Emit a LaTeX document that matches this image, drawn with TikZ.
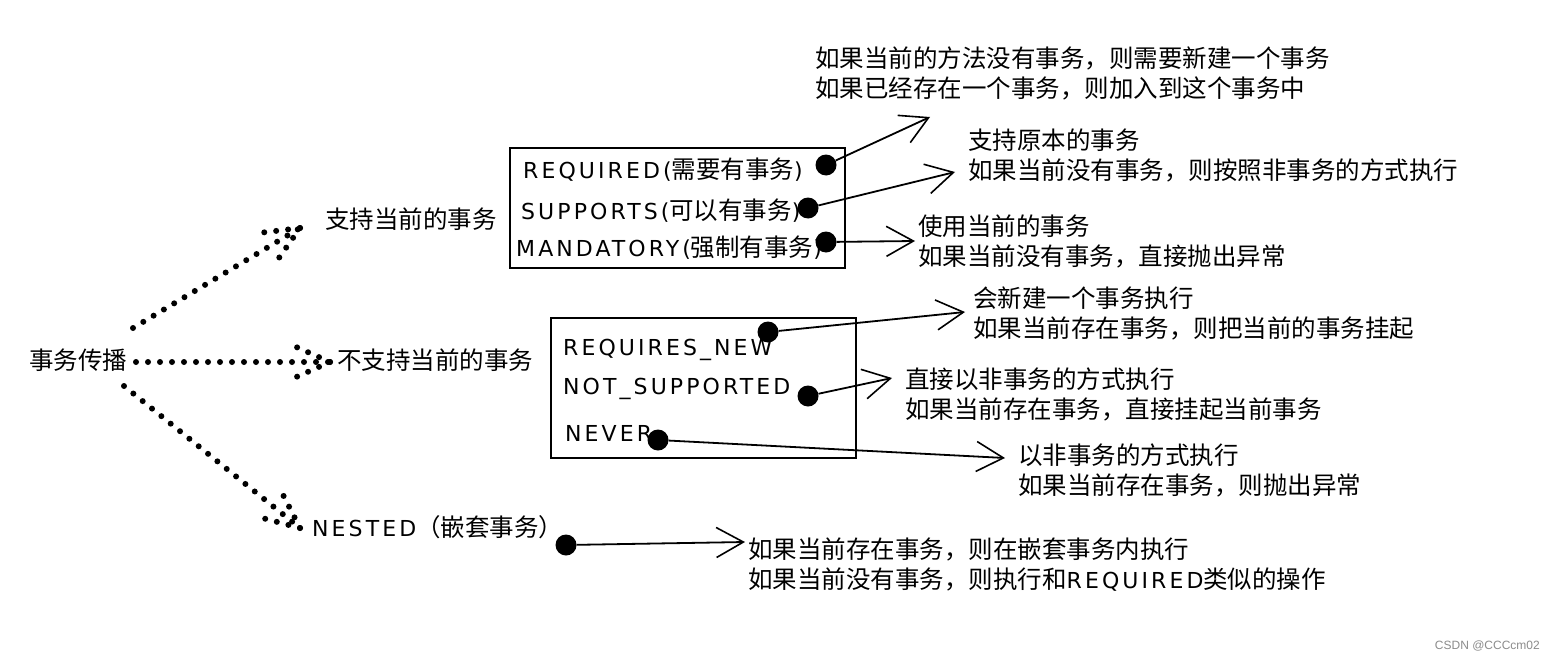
\documentclass[tikz,border=0pt]{standalone}
\usepackage{fontspec}
\setmainfont{Noto Sans CJK SC}
\newfontfamily\latfont[LetterSpace=14]{DejaVu Sans}
\newfontfamily\wmfont{Liberation Sans}
\usetikzlibrary{arrows.meta,calc}
\newcommand{\lat}[1]{{\latfont\fontsize{22}{26}\selectfont #1}}
\tikzset{
  txt/.style={anchor=west, inner sep=0pt, align=left, font=\fontsize{24.5}{30}\selectfont},
  row/.style={anchor=west, inner sep=0pt, font=\fontsize{24.5}{30}\selectfont},
  dotline/.style={line width=6pt, dash pattern=on 0pt off 12pt, line cap=round},
  blob/.style={circle, fill=black, inner sep=0pt, minimum size=21pt},
  conn/.style={line width=1.8pt, -{Straight Barb[length=27pt,width=30pt,line width=1.6pt]}},
  boxframe/.style={draw, line width=1.6pt, inner sep=0pt},
}
\newcommand{\dotarrow}[2]{%
  \draw[dotline] (#1) -- (#2);
  \draw[dotline] (#2) -- ($(#2)!38pt!24:(#1)$);
  \draw[dotline] (#2) -- ($(#2)!38pt!-24:(#1)$);
}
\begin{document}
\begin{tikzpicture}[x=1pt,y=-1pt]
\useasboundingbox (0,0) rectangle (1554,661);
\fill[white] (0,0) rectangle (1554,661);

% main nodes
\node[row, anchor=center] (root) at (78,360) {事务传播};
\node[row] (sup) at (325,219) {支持当前的事务};
\node[row] (nsup) at (337,360) {不支持当前的事务};
\node[row] (nested) at (312,527) {\lat{NESTED}（嵌套事务）};

% dotted arrows
\coordinate (s1) at (133,328);
\coordinate (e1) at (300,228);
\coordinate (s2) at (136,362);
\coordinate (e2) at (330,362);
\coordinate (s3) at (124,386);
\coordinate (e3) at (300,528);
\dotarrow{s1}{e1}
\dotarrow{s2}{e2}
\dotarrow{s3}{e3}

% boxes
\node[boxframe, minimum width=335pt, minimum height=120pt] (box1) at (677.5,208) {};
\node[boxframe, minimum width=305pt, minimum height=140pt] (box2) at (703.5,388) {};

% rows box 1
\node[row] (req) at (523,170) {\lat{REQUIRED(}需要有事务\lat{)}};
\node[row] (sups) at (521,211) {\lat{SUPPORTS(}可以有事务\lat{)}};
\node[row] (mand) at (516,248) {\lat{MANDATORY(}强制有事务\lat{)}};

% rows box 2
\node[row] (reqn) at (563,350) {\lat{REQUIRES\_NEW}};
\node[row] (nots) at (563,389) {\lat{NOT\_SUPPORTED}};
\node[row] (never) at (565,433) {\lat{NEVER}};

% blobs
\node[blob] (d1) at (826,165) {};
\node[blob] (d2) at (808,208) {};
\node[blob] (d3) at (826,242) {};
\node[blob] (d4) at (768,332) {};
\node[blob] (d5) at (808,396) {};
\node[blob] (d6) at (658,440) {};
\node[blob] (d7) at (566,545) {};

% description texts
\node[txt] (t1) at (815,73) {如果当前的方法没有事务，则需要新建一个事务\\如果已经存在一个事务，则加入到这个事务中};
\node[txt] (t2) at (968,155.5) {支持原本的事务\\如果当前没有事务，则按照非事务的方式执行};
\node[txt] (t3) at (918,241) {使用当前的事务\\如果当前没有事务，直接抛出异常};
\node[txt] (t4) at (973,313) {会新建一个事务执行\\如果当前存在事务，则把当前的事务挂起};
\node[txt] (t5) at (905,394.5) {直接以非事务的方式执行\\如果当前存在事务，直接挂起当前事务};
\node[txt] (t6) at (1018,470) {以非事务的方式执行\\如果当前存在事务，则抛出异常};
\node[txt] (t7) at (748,565) {如果当前存在事务，则在嵌套事务内执行\\如果当前没有事务，则执行和\lat{REQUIRED}类似的操作};

% arrow tips
\coordinate (a1) at (930,117);
\coordinate (a2) at (955,172);
\coordinate (a3) at (915,241);
\coordinate (a4) at (965,312);
\coordinate (a5) at (892,378);
\coordinate (a6) at (1005,458);
\coordinate (a7) at (745,542);

\draw[conn] (d1) -- (a1);
\draw[conn] (d2) -- (a2);
\draw[conn] (d3) -- (a3);
\draw[conn] (d4) -- (a4);
\draw[conn] (d5) -- (a5);
\draw[conn] (d6) -- (a6);
\draw[conn] (d7) -- (a7);

% watermark
\node[anchor=east, inner sep=0pt, text=black!45, font=\wmfont\fontsize{12}{14}\selectfont] (wm) at (1540,646) {CSDN @CCCcm02};
\end{tikzpicture}
\end{document}
